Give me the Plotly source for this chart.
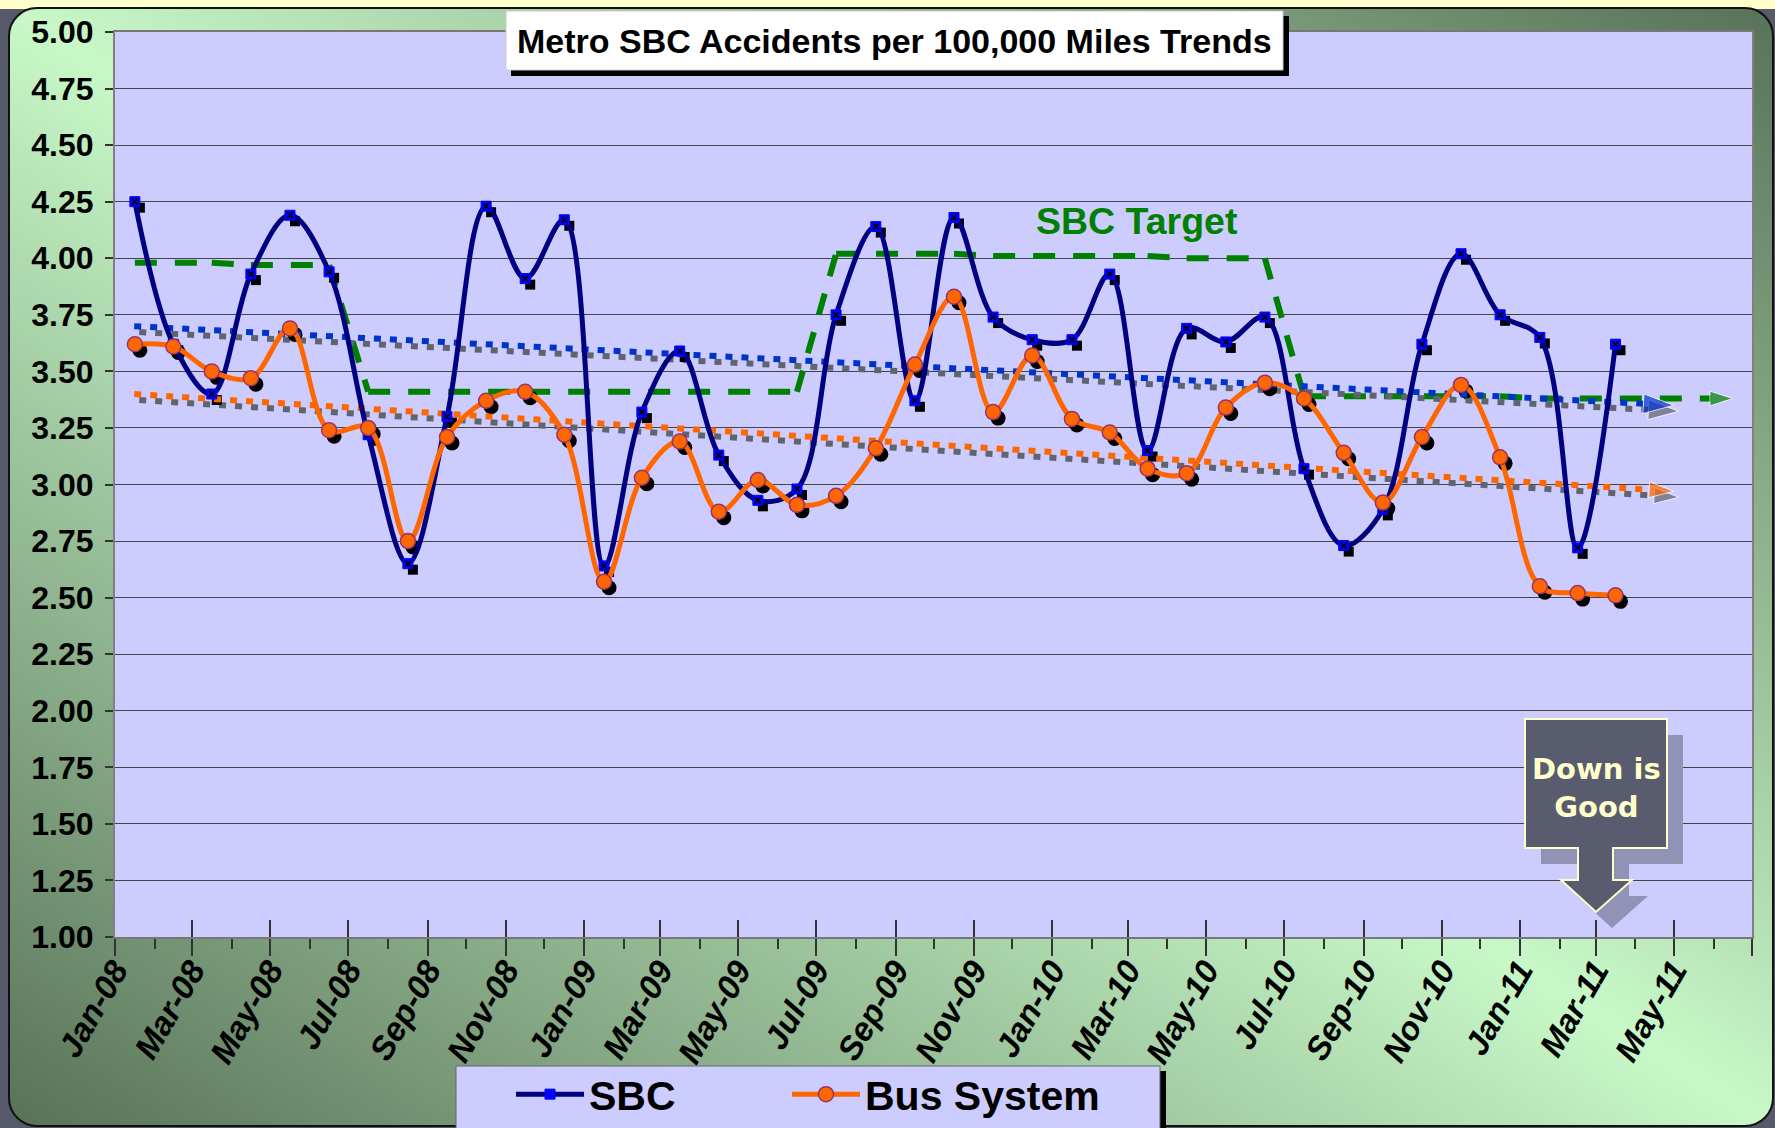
import base64
import pandas as pd
import plotly.graph_objects as go

# ---------------- data ----------------
months = ["2008-01", "2008-02", "2008-03", "2008-04", "2008-05", "2008-06",
          "2008-07", "2008-08", "2008-09", "2008-10", "2008-11", "2008-12",
          "2009-01", "2009-02", "2009-03", "2009-04", "2009-05", "2009-06",
          "2009-07", "2009-08", "2009-09", "2009-10", "2009-11", "2009-12",
          "2010-01", "2010-02", "2010-03", "2010-04", "2010-05", "2010-06",
          "2010-07", "2010-08", "2010-09", "2010-10", "2010-11", "2010-12",
          "2011-01", "2011-02", "2011-03"]
target_months = months + ["2011-04", "2011-05", "2011-06"]

sbc = [4.25, 3.62, 3.40, 3.93, 4.19, 3.94, 3.22, 2.65, 3.30, 4.23, 3.91, 4.17,
       2.64, 3.32, 3.59, 3.13, 2.93, 2.98, 3.75, 4.14, 3.37, 4.18, 3.74, 3.64,
       3.64, 3.93, 3.15, 3.69, 3.63, 3.74, 3.07, 2.73, 2.89, 3.62, 4.02, 3.75,
       3.65, 2.72, 3.62]
bus = [3.62, 3.61, 3.50, 3.47, 3.69, 3.24, 3.25, 2.75, 3.21, 3.37, 3.41, 3.22,
       2.57, 3.03, 3.19, 2.88, 3.02, 2.91, 2.95, 3.16, 3.53, 3.83, 3.32, 3.57,
       3.29, 3.23, 3.07, 3.05, 3.34, 3.45, 3.38, 3.14, 2.92, 3.21, 3.44, 3.12,
       2.55, 2.52, 2.51]
sbc_target = [3.98, 3.98, 3.98, 3.97, 3.97, 3.97,
              3.41, 3.41, 3.41, 3.41, 3.41, 3.41, 3.41, 3.41, 3.41, 3.41, 3.41, 3.41,
              4.02, 4.02, 4.02, 4.02, 4.01, 4.01, 4.01, 4.01, 4.01, 4.00, 4.00, 4.00,
              3.39, 3.39, 3.39, 3.39, 3.39, 3.39, 3.38, 3.38, 3.38, 3.38, 3.38, 3.38]
trend_x = ["2008-01-16", "2011-05-01"]
sbc_trend = [3.70, 3.35]
bus_trend = [3.40, 2.97]

# ---------------- geometry ----------------
W, H = 1775, 1128
L, R, T, B = 115, 23, 32, 191
PW, PH = W - L - R, H - T - B
X0, X1 = pd.Timestamp("2008-01-01"), pd.Timestamp("2011-07-01")
Y0, Y1 = 1.0, 5.0
F = "Liberation Sans"


def px(x):
    return (x - L) / PW


def py(y):
    return (H - B - y) / PH


def fmt(ts):
    return ts.strftime("%Y-%m-%d %H:%M:%S")


# shadow offset (pixels right / down) realised through a shifted overlay axis
sdx, sdy = 5, 6
dt = (X1 - X0) / PW * sdx
dy = (Y1 - Y0) / PH * sdy

fig = go.Figure()

# ---- base subplot (x/y): target line ----
fig.add_trace(go.Scatter(
    x=target_months, y=sbc_target, xaxis="x", yaxis="y", mode="lines+markers",
    xperiod="M1", xperiodalignment="middle",
    line=dict(color="#008000", width=6, dash="22px,18px"),
    marker=dict(symbol="arrow", size=[0] * (len(sbc_target) - 1) + [24],
                angleref="previous", color="#008000"),
    showlegend=False, hoverinfo="skip"))

# ---- shadows (x2/y2) ----
for yv, sz in ((sbc_trend, 32), (bus_trend, 26)):
    fig.add_trace(go.Scatter(
        x=trend_x, y=yv, xaxis="x2", yaxis="y2", mode="lines+markers",
        line=dict(color="#60646e", width=6, dash="7px,9px"),
        marker=dict(symbol="arrow", size=[0, sz], angleref="previous", color="#60646e"),
        showlegend=False, hoverinfo="skip"))
fig.add_trace(go.Scatter(
    x=months, y=sbc, xaxis="x2", yaxis="y2", mode="markers",
    xperiod="M1", xperiodalignment="middle",
    marker=dict(symbol="square", size=10, color="black"),
    showlegend=False, hoverinfo="skip"))
fig.add_trace(go.Scatter(
    x=months, y=bus, xaxis="x2", yaxis="y2", mode="markers",
    xperiod="M1", xperiodalignment="middle",
    marker=dict(symbol="circle", size=15, color="black"),
    showlegend=False, hoverinfo="skip"))

# ---- main traces (x3/y3) ----
fig.add_trace(go.Scatter(
    x=trend_x, y=sbc_trend, xaxis="x3", yaxis="y3", mode="lines+markers",
    line=dict(color="#0033cc", width=6, dash="7px,9px"),
    marker=dict(symbol="arrow", size=[0, 32], angleref="previous", color="#0033cc"),
    showlegend=False, hoverinfo="skip"))
fig.add_trace(go.Scatter(
    x=trend_x, y=bus_trend, xaxis="x3", yaxis="y3", mode="lines+markers",
    line=dict(color="#ff6600", width=6, dash="7px,9px"),
    marker=dict(symbol="arrow", size=[0, 26], angleref="previous", color="#ff6600"),
    showlegend=False, hoverinfo="skip"))
fig.add_trace(go.Scatter(
    x=months, y=sbc, xaxis="x3", yaxis="y3", name="SBC", mode="lines+markers",
    xperiod="M1", xperiodalignment="middle", legend="legend",
    line=dict(color="#000080", width=5, shape="spline", smoothing=1.0),
    marker=dict(symbol="square", size=10, color="#0000ff",
                line=dict(color="#0000ff", width=1))))
fig.add_trace(go.Scatter(
    x=months, y=sbc, xaxis="x3", yaxis="y3", mode="markers",
    xperiod="M1", xperiodalignment="middle",
    marker=dict(symbol="x-thin", size=6, line=dict(color="black", width=1.6)),
    showlegend=False, hoverinfo="skip"))
fig.add_trace(go.Scatter(
    x=months, y=bus, xaxis="x3", yaxis="y3", name="Bus System", mode="lines+markers",
    xperiod="M1", xperiodalignment="middle", legend="legend2",
    line=dict(color="#ff6600", width=5, shape="spline", smoothing=1.0),
    marker=dict(symbol="circle", size=15, color="#ff6600",
                line=dict(color="#993366", width=1.5))))

# ---------------- background ----------------
svg = f'''<svg xmlns="http://www.w3.org/2000/svg" width="{W}" height="{H}" viewBox="0 0 {W} {H}" preserveAspectRatio="none">
<defs><linearGradient id="g" x1="0" y1="1" x2="1" y2="0">
<stop offset="0" stop-color="#587258"/><stop offset="0.5" stop-color="#c8f8c8"/><stop offset="1" stop-color="#587258"/>
</linearGradient></defs>
<rect x="0" y="0" width="{W}" height="{H}" fill="#575a6b"/>
<rect x="0" y="0" width="{W}" height="9" fill="#ffffcc"/>
<rect x="9" y="8" width="{W - 11}" height="{H - 10}" rx="28" ry="28" fill="url(#g)" stroke="#111" stroke-width="2"/>
<rect x="{L}" y="{T}" width="{PW}" height="{PH}" fill="#ccccff"/>
</svg>'''
src = "data:image/svg+xml;base64," + base64.b64encode(svg.encode()).decode()

shapes = []


def rect(x0, y0, x1, y1, fill, line=None, lw=0):
    shapes.append(dict(type="rect", xref="paper", yref="paper", layer="above",
                       x0=px(x0), x1=px(x1), y0=py(y1), y1=py(y0),
                       fillcolor=fill, line=dict(color=line or fill, width=lw)))


# title box
rect(511, 16, 1289, 76, "black")
rect(506, 11, 1283, 70, "white", "#cccccc", 1)
# legend box
rect(461, 1071, 1166, 1140, "black")
rect(456, 1066, 1160, 1135, "#ccccff", "#666666", 1)


def callout(ox, oy):
    pts = [(1525, 719), (1667, 719), (1667, 848), (1613, 848), (1613, 880),
           (1632, 880), (1596, 912), (1561, 880), (1578, 880), (1578, 848), (1525, 848)]
    return "M " + " L ".join(f"{px(x + ox):.5f},{py(y + oy):.5f}" for x, y in pts) + " Z"


shapes.append(dict(type="path", xref="paper", yref="paper", layer="above",
                   path=callout(16, 16), fillcolor="#9092b6", line=dict(width=0)))
shapes.append(dict(type="path", xref="paper", yref="paper", layer="above",
                   path=callout(0, 0), fillcolor="#585c6e",
                   line=dict(color="#ffffcc", width=2)))

annotations = [
    dict(text="<b>Metro SBC Accidents per 100,000 Miles Trends</b>", xref="paper", yref="paper",
         x=px(894.5), y=py(40.5), showarrow=False, xanchor="center", yanchor="middle",
         font=dict(family=F, size=34, color="black")),
    dict(text="<b>SBC Target</b>", xref="paper", yref="paper",
         x=px(1136.5), y=py(221), showarrow=False, xanchor="center", yanchor="middle",
         font=dict(family=F, size=37.5, color="#008000")),
    dict(text="<b>Down is<br>Good</b>", xref="paper", yref="paper",
         x=px(1596), y=py(788), showarrow=False, xanchor="center", yanchor="middle",
         font=dict(family="DejaVu Sans", size=29, color="#ffffcc")),
]

legend_common = dict(orientation="h", xanchor="left", yanchor="top",
                     bgcolor="rgba(0,0,0,0)", borderwidth=0, itemwidth=68,
                     font=dict(family=F, size=41, color="black", weight="bold"))

tickc = "#333333"
fig.update_layout(
    width=W, height=H,
    margin=dict(l=L, r=R, t=T, b=B, autoexpand=False),
    paper_bgcolor="#575a6b", plot_bgcolor="rgba(0,0,0,0)",
    images=[dict(source=src, xref="paper", yref="paper", x=px(0), y=py(0),
                 sizex=W / PW, sizey=H / PH, xanchor="left", yanchor="top",
                 sizing="stretch", layer="below")],
    shapes=shapes, annotations=annotations,
    showlegend=True,
    legend=dict(x=px(511), y=py(1061), **legend_common),
    legend2=dict(x=px(787), y=py(1061), **legend_common),
    xaxis=dict(type="date", range=[X0, X1], tick0="2008-01-01", dtick="M2",
               tickformat="%b-%y", tickangle=-60, labelalias={"Jul-11": ""},
               tickfont=dict(family=F, size=33, color="black", weight="bold", style="italic"),
               ticks="outside", ticklen=17, tickwidth=1.5, tickcolor=tickc,
               ticklabelstandoff=-18,
               minor=dict(dtick="M1", ticks="outside", ticklen=10, tickwidth=1.5,
                          tickcolor=tickc, showgrid=False),
               showgrid=False, zeroline=False, showline=True, linecolor="#777777",
               linewidth=2, mirror=True, anchor="y"),
    yaxis=dict(range=[Y0, Y1], tick0=1, dtick=0.25, tickformat=".2f",
               tickfont=dict(family=F, size=32, color="black", weight="bold"),
               ticks="outside", ticklen=8, tickwidth=1.5, tickcolor=tickc,
               ticklabelstandoff=5,
               showgrid=True, gridcolor="#444444", gridwidth=1, zeroline=False,
               showline=True, linecolor="#808080", linewidth=2, mirror=True, anchor="x"),
    xaxis2=dict(type="date", overlaying="x", anchor="y2",
                range=[fmt(X0 - dt), fmt(X1 - dt)], visible=False),
    yaxis2=dict(overlaying="y", anchor="x2", range=[Y0 + dy, Y1 + dy], visible=False),
    xaxis3=dict(type="date", overlaying="x", anchor="y3", range=[X0, X1],
                tick0="2008-01-01", dtick="M2", ticks="inside", ticklen=17,
                tickwidth=1.5, tickcolor=tickc, showticklabels=False,
                showgrid=False, zeroline=False, showline=False),
    yaxis3=dict(overlaying="y", anchor="x3", range=[Y0, Y1], visible=False),
)

fig.write_html("out.html", config={"displayModeBar": False},
               post_script="document.body.style.margin='0';document.body.style.overflow='hidden';")
